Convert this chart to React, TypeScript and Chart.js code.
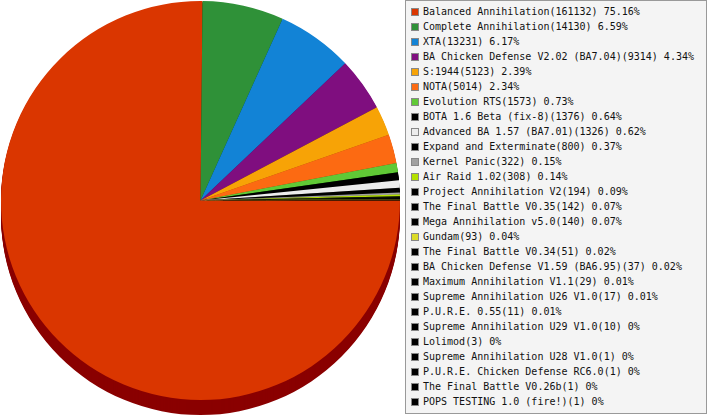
import { Chart, registerables } from "chart.js";
import { useEffect, useRef } from "react";

Chart.register(...registerables);

const mods = [
  "Balanced Annihilation",
  "Complete Annihilation",
  "XTA",
  "BA Chicken Defense V2.02 (BA7.04)",
  "S:1944",
  "NOTA",
  "Evolution RTS",
  "BOTA 1.6 Beta (fix-8)",
  "Advanced BA 1.57 (BA7.01)",
  "Expand and Exterminate",
  "Kernel Panic",
  "Air Raid 1.02",
  "Project Annihilation V2",
  "The Final Battle V0.35",
  "Mega Annihilation v5.0",
  "Gundam",
  "The Final Battle V0.34",
  "BA Chicken Defense V1.59 (BA6.95)",
  "Maximum Annihilation V1.1",
  "Supreme Annihilation U26 V1.0",
  "P.U.R.E. 0.55",
  "Supreme Annihilation U29 V1.0",
  "Lolimod",
  "Supreme Annihilation U28 V1.0",
  "P.U.R.E. Chicken Defense RC6.0",
  "The Final Battle V0.26b",
  "POPS TESTING 1.0 (fire!)",
];

const games = [
  161132, 14130, 13231, 9314, 5123, 5014, 1573, 1376, 1326, 800, 322, 308, 194,
  142, 140, 93, 51, 37, 29, 17, 11, 10, 3, 1, 1, 1, 1,
];

const colors = [
  "#da3600", "#2f9138", "#1283d6", "#7f0e7f", "#f7a306", "#fc6a12", "#60c936",
  "#000000", "#ececec", "#000000", "#a0a0a0", "#b4e000", "#000000", "#000000",
  "#000000", "#dcdc28", "#000000", "#000000", "#000000", "#000000", "#000000",
  "#000000", "#000000", "#000000", "#000000", "#000000", "#000000",
];

const DEPTH = 15;

// darker side colour for the 3d look
const shade = (hex: string) => {
  const n = parseInt(hex.slice(1), 16);
  const r = Math.max(0, ((n >> 16) & 255) - 80);
  const g = Math.max(0, ((n >> 8) & 255) - 80);
  const b = Math.max(0, (n & 255) - 80);
  return `rgb(${r},${g},${b})`;
};

const total = games.reduce((a, b) => a + b, 0);
const pct = (v: number) => Math.round((v / total) * 10000) / 100 + "%";

const sidePlugin = {
  id: "pieSide",
  beforeDatasetsDraw(chart: any) {
    const { ctx } = chart;
    const meta = chart.getDatasetMeta(0);
    ctx.save();
    for (let d = DEPTH; d >= 1; d--) {
      meta.data.forEach((arc: any, i: number) => {
        const { x, y, startAngle, endAngle, outerRadius } = arc.getProps(
          ["x", "y", "startAngle", "endAngle", "outerRadius"],
          true
        );
        ctx.fillStyle = shade(colors[i]);
        ctx.beginPath();
        ctx.moveTo(x, y + d);
        ctx.arc(x, y + d, outerRadius, startAngle, endAngle);
        ctx.closePath();
        ctx.fill();
      });
    }
    ctx.restore();
  },
};

const ModPie = () => {
  const chartRef = useRef<Chart | null>(null);
  const canvasRef = useRef<HTMLCanvasElement | null>(null);

  useEffect(() => {
    if (!canvasRef.current) return;
    if (chartRef.current) chartRef.current.destroy();

    const ctx = canvasRef.current.getContext("2d");
    if (!ctx) return;

    chartRef.current = new Chart(ctx, {
      type: "pie",
      data: {
        labels: mods,
        datasets: [
          {
            data: games,
            backgroundColor: colors,
            borderWidth: 0,
          },
        ],
      },
      options: {
        animation: false,
        responsive: false,
        rotation: 90,
        layout: { padding: { left: 1, right: 5, top: 1, bottom: DEPTH } },
        plugins: {
          legend: { display: false },
          tooltip: { enabled: false },
        },
      },
      plugins: [sidePlugin],
    });

    return () => {
      if (chartRef.current) chartRef.current.destroy();
    };
  }, []);

  return (
    <div
      style={{
        position: "absolute",
        left: 0,
        top: 0,
        width: 707,
        height: 415,
        background: "#fff",
      }}
    >
      <canvas
        ref={canvasRef}
        width={405}
        height={415}
        style={{ position: "absolute", left: 0, top: 0 }}
      ></canvas>
      <div
        style={{
          position: "absolute",
          left: 405,
          top: 0,
          width: 302,
          height: 414,
          boxSizing: "border-box",
          border: "1px solid #999",
          background: "#f4f4f4",
          paddingTop: 3,
          paddingLeft: 5,
          fontFamily: "'DejaVu Sans Mono', monospace",
          fontSize: 10,
          color: "#111",
        }}
      >
        {mods.map((m, i) => (
          <div
            key={m}
            style={{
              height: 15,
              lineHeight: "15px",
              display: "flex",
              alignItems: "center",
              whiteSpace: "nowrap",
            }}
          >
            <span
              style={{
                width: 6,
                height: 6,
                border: "1px solid #888",
                background: colors[i],
                marginRight: 4,
                flex: "none",
              }}
            ></span>
            <span>
              {m}({games[i]}) {pct(games[i])}
            </span>
          </div>
        ))}
      </div>
    </div>
  );
};

export default function App() {
  return <ModPie />;
}
